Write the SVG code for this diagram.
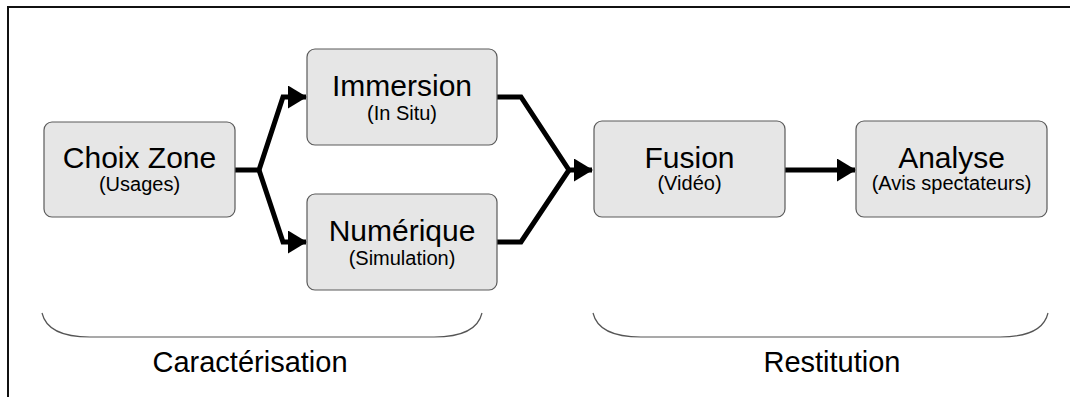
<svg xmlns="http://www.w3.org/2000/svg" width="1070" height="397" viewBox="0 0 1070 397">
  <defs>
    <style>
      .box { fill: #e6e6e6; stroke: #5a5a5a; stroke-width: 1.2; }
      .title { font-family: "Liberation Sans", Arial, sans-serif; font-size: 30px; fill: #000; text-anchor: middle; }
      .sub { font-family: "Liberation Sans", Arial, sans-serif; font-size: 20px; fill: #000; text-anchor: middle; }
      .label { font-family: "Liberation Sans", Arial, sans-serif; font-size: 29px; fill: #000; text-anchor: middle; }
      .link { fill: none; stroke: #000; stroke-width: 5; stroke-linejoin: miter; }
      .brace { fill: none; stroke: #555; stroke-width: 1.2; }
    </style>
    <marker id="arrow" viewBox="0 0 19 23" refX="18" refY="11.5" markerWidth="19" markerHeight="23" markerUnits="userSpaceOnUse" orient="auto">
      <path d="M0,0 L19,11.5 L0,23 Z" fill="#000"/>
    </marker>
  </defs>

  <rect width="1070" height="397" fill="#fff"/>
  <!-- outer frame, open past the right and bottom edges -->
  <rect x="8" y="7" width="1080" height="410" fill="none" stroke="#111" stroke-width="2"/>

  <g id="connectors">
    <path class="link" d="M235,170 L259,170 L283,97 L306,97" marker-end="url(#arrow)"/>
    <path class="link" d="M259,170 L283,242 L306,242" marker-end="url(#arrow)"/>
    <path class="link" d="M497,97 L521,97 L569,170 L592,170" marker-end="url(#arrow)"/>
    <path class="link" d="M497,242 L521,242 L569,170"/>
    <path class="link" d="M785,170 L855,170" marker-end="url(#arrow)"/>
  </g>

  <g id="choix-zone">
    <rect class="box" x="44" y="122" width="191" height="95" rx="8"/>
    <text class="title" x="139.5" y="168">Choix Zone</text>
    <text class="sub" x="139.5" y="191">(Usages)</text>
  </g>

  <g id="immersion">
    <rect class="box" x="307" y="49" width="190" height="96" rx="8"/>
    <text class="title" x="402" y="96">Immersion</text>
    <text class="sub" x="402" y="120">(In Situ)</text>
  </g>

  <g id="numerique">
    <rect class="box" x="307" y="194" width="190" height="96" rx="8"/>
    <text class="title" x="402" y="241">Numérique</text>
    <text class="sub" x="402" y="265">(Simulation)</text>
  </g>

  <g id="fusion">
    <rect class="box" x="594" y="121" width="191" height="96" rx="8"/>
    <text class="title" x="689.5" y="168">Fusion</text>
    <text class="sub" x="689.5" y="190">(Vidéo)</text>
  </g>

  <g id="analyse">
    <rect class="box" x="856" y="121" width="191" height="96" rx="8"/>
    <text class="title" x="951.5" y="168">Analyse</text>
    <text class="sub" x="951.5" y="190">(Avis spectateurs)</text>
  </g>

  <g id="caracterisation">
    <path class="brace" d="M42,313 C46,330 65,337 90,337 L434,337 C459,337 478,330 482,313"/>
    <text class="label" x="250" y="372">Caractérisation</text>
  </g>

  <g id="restitution">
    <path class="brace" d="M593,313 C597,330 616,337 641,337 L1000,337 C1025,337 1044,330 1048,313"/>
    <text class="label" x="832" y="372">Restitution</text>
  </g>
</svg>
